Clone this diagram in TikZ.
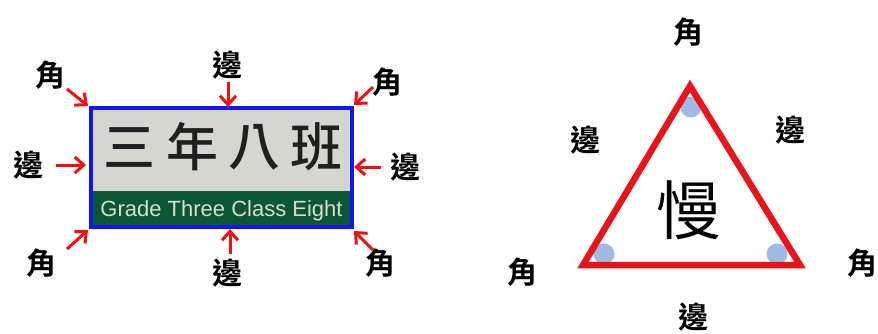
\documentclass[tikz,border=0pt]{standalone}
\usepackage{fontspec}
\setmainfont{Liberation Sans}
\newfontfamily\cjk{Noto Sans CJK TC}
\newfontfamily\cjkm{Noto Sans CJK TC Medium}
\newfontfamily\cjkb{Noto Sans CJK TC Bold}
\usetikzlibrary{arrows.meta}
\definecolor{sigred}{HTML}{F01010}
\definecolor{sigblue}{HTML}{1414F0}
\definecolor{siggray}{HTML}{D6D6D0}
\definecolor{siggreen}{HTML}{0B5637}
\definecolor{sigtext}{HTML}{D8DCD4}
\definecolor{trired}{HTML}{E8141A}
\definecolor{cornerblue}{HTML}{9FBBE3}
\tikzset{
  lbl/.style={font=\cjkb\fontsize{30}{30}\selectfont, inner sep=0pt},
  title/.style={font=\cjkm\fontsize{52}{52}\selectfont, text=black!88, inner sep=0pt},
  pointer/.style={draw=sigred, line width=3pt, -{Straight Barb[length=9pt,width=16pt,line width=3pt]}},
  corner/.style={fill=cornerblue, draw=none, circle, minimum size=21pt, inner sep=0pt}
}
\begin{document}
\begin{tikzpicture}[x=1pt,y=-1pt]
\useasboundingbox (0,0) rectangle (878,334);
% sign
\fill[siggray] (91,108) rectangle (352,191);
\fill[siggreen] (91,191) rectangle (352,227);
\node[title] (t1) at (129,147) {三};
\node[title] (t2) at (192,147) {年};
\node[title] (t3) at (254,147) {八};
\node[title] (t4) at (316,147) {班};
\node[font=\fontsize{22}{22}\selectfont, text=sigtext, inner sep=0pt] (eng) at (221.5,211) {Grade Three Class Eight};
\node[draw=sigblue, line width=3.2pt, minimum width=261pt, minimum height=119pt, inner sep=0pt] (sign) at (221.5,167.5) {};
% arrow end coordinates
\coordinate (tl) at (88,106);
\coordinate (tm) at (228,107);
\coordinate (tr) at (354,105);
\coordinate (ml) at (86,165);
\coordinate (mr) at (354,167);
\coordinate (bl) at (88,230);
\coordinate (bm) at (230,229);
\coordinate (br) at (354,231);
% labels
\node[lbl] (ltl) at (50,75) {角};
\node[lbl] (ltm) at (227,65) {邊};
\node[lbl] (ltr) at (387,82) {角};
\node[lbl] (lml) at (28,165) {邊};
\node[lbl] (lmr) at (405,167) {邊};
\node[lbl] (lbl1) at (42,263) {角};
\node[lbl] (lbm) at (227,273) {邊};
\node[lbl] (lbr) at (380,263) {角};
% arrow start coordinates
\coordinate (stl) at (67,89);
\coordinate (stm) at (228,82);
\coordinate (str) at (373,87);
\coordinate (sml) at (56,165);
\coordinate (smr) at (381,167);
\coordinate (sbl) at (67,249);
\coordinate (sbm) at (230,254);
\coordinate (sbr) at (373,250);
\draw[pointer] (stl) -- (tl);
\draw[pointer] (stm) -- (tm);
\draw[pointer] (str) -- (tr);
\draw[pointer] (sml) -- (ml);
\draw[pointer] (smr) -- (mr);
\draw[pointer] (sbl) -- (bl);
\draw[pointer] (sbm) -- (bm);
\draw[pointer] (sbr) -- (br);
% triangle
\coordinate (A) at (690,86);
\coordinate (B) at (583,265);
\coordinate (C) at (800,265);
\fill[white] (A) -- (B) -- (C) -- cycle;
\node[corner] (ca) at (691,107) {};
\node[corner] (cb) at (604,254) {};
\node[corner] (cc) at (777,254) {};
\draw[trired, line width=6.5pt, line join=miter] (A) -- (B) -- (C) -- cycle;
\node[font=\cjk\fontsize{64}{64}\selectfont, inner sep=0pt] (man) at (688,210) {慢};
\node[lbl] (ta) at (688,32) {角};
\node[lbl] (tel) at (585,140) {邊};
\node[lbl] (ter) at (790,130) {邊};
\node[lbl] (tb) at (522,272) {角};
\node[lbl] (tc) at (862,263) {角};
\node[lbl] (teb) at (693,317) {邊};
\end{tikzpicture}
\end{document}
